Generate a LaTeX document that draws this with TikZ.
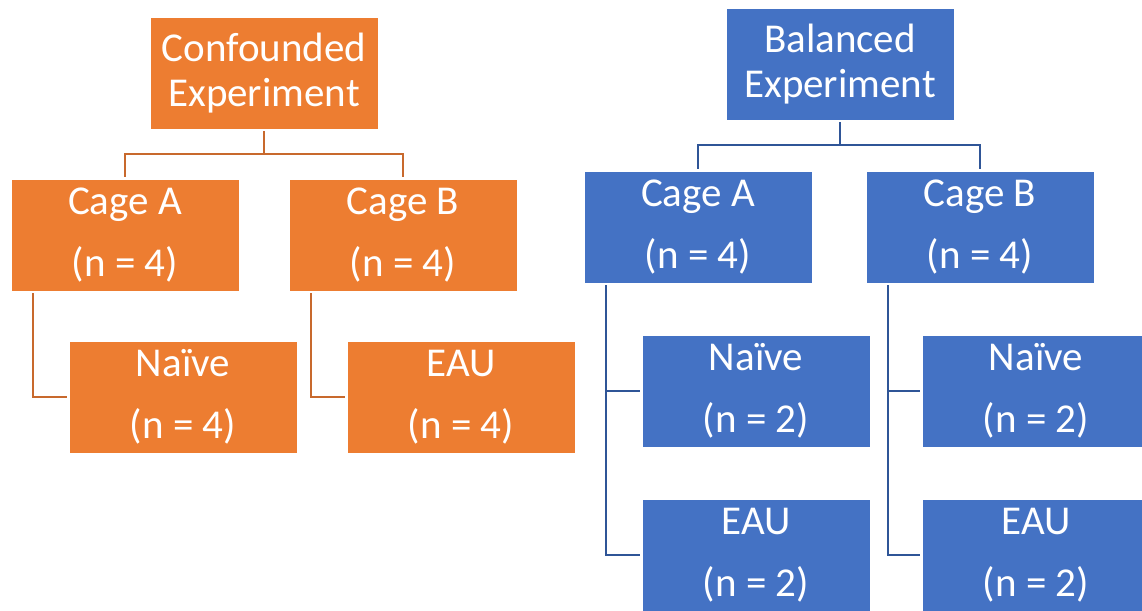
\documentclass[tikz,border=0pt]{standalone}
\usepackage{fontspec}
\setmainfont{Carlito}
\definecolor{orangeC}{RGB}{237,125,49}
\definecolor{blueC}{RGB}{68,114,196}
\definecolor{olineC}{RGB}{200,105,45}
\definecolor{blineC}{RGB}{47,85,151}
\tikzset{
  boxbase/.style={draw=white, line width=0.8pt, minimum width=228pt, minimum height=112pt,
    inner sep=0pt, text=white, align=center, font=\fontsize{41}{62}\selectfont},
  obox/.style={boxbase, fill=orangeC},
  bbox/.style={boxbase, fill=blueC},
  topfont/.style={font=\fontsize{41}{45}\selectfont},
  oline/.style={draw=olineC, line width=2pt},
  bline/.style={draw=blineC, line width=2pt},
}
\begin{document}
\begin{tikzpicture}[x=1pt,y=-1pt]
\useasboundingbox (0,0) rectangle (1142,610);
\clip (0,0) rectangle (1142,610);
% Confounded
\node[obox, topfont] (ctop) at (264,73) {Confounded\\Experiment};
\node[obox] (cA) at (125,235) {Cage A\\(n = 4)};
\node[obox] (cB) at (403,235) {Cage B\\(n = 4)};
\node[obox] (cN) at (183,397) {Naïve\\(n = 4)};
\node[obox] (cE) at (461,397) {EAU\\(n = 4)};
\draw[oline] ([yshift=-2pt]ctop.south) -- ++(0,23) coordinate (cmid);
\draw[oline] ([yshift=2pt]cA.north) |- (cmid) -| ([yshift=2pt]cB.north);
\draw[oline] ([xshift=22pt,yshift=-2pt]cA.south west) |- ([xshift=-2pt]cN.west);
\draw[oline] ([xshift=22pt,yshift=-2pt]cB.south west) |- ([xshift=-2pt]cE.west);
% Balanced
\node[bbox, topfont] (btop) at (840,64) {Balanced\\Experiment};
\node[bbox] (bA) at (698,227) {Cage A\\(n = 4)};
\node[bbox] (bB) at (980,227) {Cage B\\(n = 4)};
\node[bbox] (bNA) at (756,391) {Naïve\\(n = 2)};
\node[bbox] (bEA) at (756,555) {EAU\\(n = 2)};
\node[bbox] (bNB) at (1036,391) {Naïve\\(n = 2)};
\node[bbox] (bEB) at (1036,555) {EAU\\(n = 2)};
\draw[bline] ([yshift=-2pt]btop.south) -- ++(0,23) coordinate (bmid);
\draw[bline] ([yshift=2pt]bA.north) |- (bmid) -| ([yshift=2pt]bB.north);
\draw[bline] ([xshift=22pt,yshift=-2pt]bA.south west) |- ([xshift=-2pt]bNA.west);
\draw[bline] ([xshift=22pt,yshift=-2pt]bA.south west) |- ([xshift=-2pt]bEA.west);
\draw[bline] ([xshift=22pt,yshift=-2pt]bB.south west) |- ([xshift=-2pt]bNB.west);
\draw[bline] ([xshift=22pt,yshift=-2pt]bB.south west) |- ([xshift=-2pt]bEB.west);
\end{tikzpicture}
\end{document}
